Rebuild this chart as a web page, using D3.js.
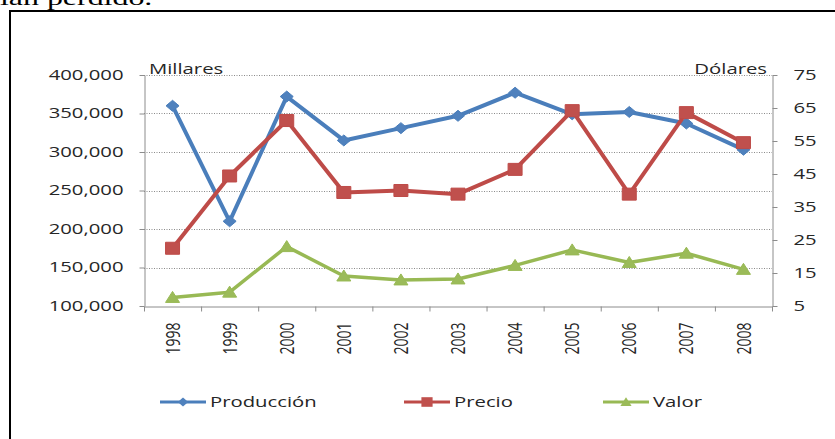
<!DOCTYPE html>
<html>
<head>
<meta charset="utf-8">
<script src="https://cdn.jsdelivr.net/npm/d3@7"></script>
<style>
	body { margin: 0; background: #fff; }
	svg { display: block; }
	text { font-family: "Open Sans", sans-serif; fill: #262626; }
</style>
</head>
<body>
<div id="chart"></div>
<script>
// ---------- DATA ----------
const years = ["1998", "1999", "2000", "2001", "2002", "2003", "2004", "2005", "2006", "2007", "2008"];
const produccion = [360000, 210000, 372000, 315000, 331000, 347000, 377000, 349000, 352000, 337000, 303000];
const precio = [22.5, 44.4, 61.2, 39.4, 40, 38.9, 46.4, 64.2, 38.9, 63.6, 54.5];
const valor = [7.6, 9.2, 23, 14.1, 12.9, 13.2, 17.3, 22, 18.2, 21, 16.1];
const leftTicks = [100000, 150000, 200000, 250000, 300000, 350000, 400000];
const rightTicks = [5, 15, 25, 35, 45, 55, 65, 75];
const seriesNames = ["Producción", "Precio", "Valor"];

// ---------- LAYOUT ----------
const size = { w: 835, h: 439 };
const margin = { top: 75, right: 63, bottom: 133, left: 144 };
const SX = 1.45; // the picture is stretched sideways

const colors = {
	blue: "#4a7ebb",
	blueFill: "#4f81bd",
	red: "#be4b48",
	redFill: "#c0504d",
	green: "#98b954",
	greenFill: "#9bbb59",
	axis: "#8c8c8c",
};

const svg = d3
	.select("#chart")
	.append("svg")
	.attr("width", size.w)
	.attr("height", size.h);

// text helper: move x/y into a transform so glyphs can be widened
function stretch(sel, rot) {
	sel.each(function () {
		const t = d3.select(this);
		const x = +t.attr("x") || 0;
		const y = +t.attr("y") || 0;
		t.attr("x", 0)
			.attr("y", 0)
			.attr("transform", `translate(${x},${y}) scale(${SX},1)` + (rot ? ` rotate(${rot})` : ""));
	});
}

// page text cut at top (as in the scan)
svg.append("text")
	.attr("x", 0)
	.attr("y", 5)
	.style("font-family", '"Liberation Serif", serif')
	.style("font-size", "22px")
	.style("fill", "#000")
	.text("ían perdido.")
	.call(stretch);

// frame
svg.append("path")
	.attr("d", `M10,${size.h}V11H${size.w}`)
	.attr("fill", "none")
	.attr("stroke", "#000")
	.attr("stroke-width", 2);

const x0 = margin.left, x1 = size.w - margin.right;
const y0 = margin.top, y1 = size.h - margin.bottom;

const xBand = d3.scaleBand().domain(years).range([x0, x1]);
const xEdge = d3.scaleLinear().domain([0, years.length]).range([x0, x1]);
const yLeft = d3.scaleLinear().domain([100000, 400000]).range([y1, y0]);
const yRight = d3.scaleLinear().domain([5, 75]).range([y1, y0]);

// gridlines
svg.append("g")
	.selectAll("line")
	.data(leftTicks.slice(1))
	.join("line")
	.attr("x1", x0)
	.attr("x2", x1)
	.attr("y1", (d) => Math.round(yLeft(d)) + 0.5)
	.attr("y2", (d) => Math.round(yLeft(d)) + 0.5)
	.attr("stroke", "#8a8a8a")
	.attr("stroke-dasharray", "1,1.5");

// axes
const gLeft = svg.append("g")
	.attr("transform", `translate(${x0 + 0.5},0)`)
	.call(d3.axisLeft(yLeft).tickValues(leftTicks).tickFormat(d3.format(",")).tickSize(5).tickPadding(16).tickSizeOuter(0));
const gRight = svg.append("g")
	.attr("transform", `translate(${x1 + 0.5},0)`)
	.call(d3.axisRight(yRight).tickValues(rightTicks).tickSize(5).tickPadding(16).tickSizeOuter(0));
const gEdge = svg.append("g")
	.attr("transform", `translate(0,${y1 + 0.5})`)
	.call(d3.axisBottom(xEdge).tickValues(d3.range(years.length + 1)).tickFormat("").tickSize(5).tickSizeOuter(0));
const gYears = svg.append("g")
	.attr("transform", `translate(0,${y1 + 0.5})`)
	.call(d3.axisBottom(xBand).tickSize(0).tickPadding(16));

[gLeft, gRight, gEdge, gYears].forEach((g) => {
	g.selectAll("path, line").attr("stroke", colors.axis);
	g.selectAll("text").style("font-family", '"Open Sans", sans-serif').style("font-size", "14px").attr("fill", "#262626");
});
gYears.select(".domain").remove();
gLeft.selectAll("text").call(stretch);
gRight.selectAll("text").call(stretch);
gYears.selectAll("text")
	.attr("text-anchor", "end")
	.attr("dy", "0.35em")
	.call(stretch, -90);

// axis titles
svg.append("text")
	.attr("x", x0 + 5)
	.attr("y", y0 - 1)
	.style("font-size", "14px")
	.text("Millares")
	.call(stretch);
svg.append("text")
	.attr("x", x1 - 5)
	.attr("y", y0 - 1)
	.attr("text-anchor", "end")
	.style("font-size", "14px")
	.text("Dólares")
	.call(stretch);

// markers
const shapes = {
	diamond: "M0,-5.5L6.5,0L0,5.5L-6.5,0Z",
	square: "M-7,-6H7V6H-7Z",
	triangle: "M0,-6L7,5H-7Z",
};

const series = [
	{ name: seriesNames[0], values: produccion, y: yLeft, line: colors.blue, fill: colors.blueFill, shape: shapes.diamond, w: 4 },
	{ name: seriesNames[1], values: precio, y: yRight, line: colors.red, fill: colors.redFill, shape: shapes.square, w: 4 },
	{ name: seriesNames[2], values: valor, y: yRight, line: colors.green, fill: colors.greenFill, shape: shapes.triangle, w: 3.5 },
];

const cx = (i) => xBand(years[i]) + xBand.bandwidth() / 2;

series.forEach((s) => {
	const g = svg.append("g");
	g.append("path")
		.datum(s.values)
		.attr("fill", "none")
		.attr("stroke", s.line)
		.attr("stroke-width", s.w)
		.attr("stroke-linejoin", "round")
		.attr("d", d3.line().x((d, i) => cx(i)).y((d) => s.y(d)));
	g.selectAll(".pt")
		.data(s.values)
		.join("path")
		.attr("d", s.shape)
		.attr("fill", s.fill)
		.attr("stroke", s.line)
		.attr("stroke-width", 1)
		.attr("transform", (d, i) => `translate(${cx(i)},${s.y(d)})`);
});

// legend
const legendX = [160, 404, 603];
const legendY = 402;
series.forEach((s, i) => {
	const g = svg.append("g").attr("transform", `translate(${legendX[i]},${legendY})`);
	g.append("line")
		.attr("x1", 0)
		.attr("x2", 46)
		.attr("stroke", s.line)
		.attr("stroke-width", 3);
	g.append("path")
		.attr("d", s.shape)
		.attr("fill", s.fill)
		.attr("transform", "translate(23,0) scale(0.8)");
	g.append("text")
		.attr("x", 50)
		.attr("y", 0)
		.attr("dy", "0.35em")
		.style("font-size", "14px")
		.text(s.name)
		.call(stretch);
});
</script>
</body>
</html>
